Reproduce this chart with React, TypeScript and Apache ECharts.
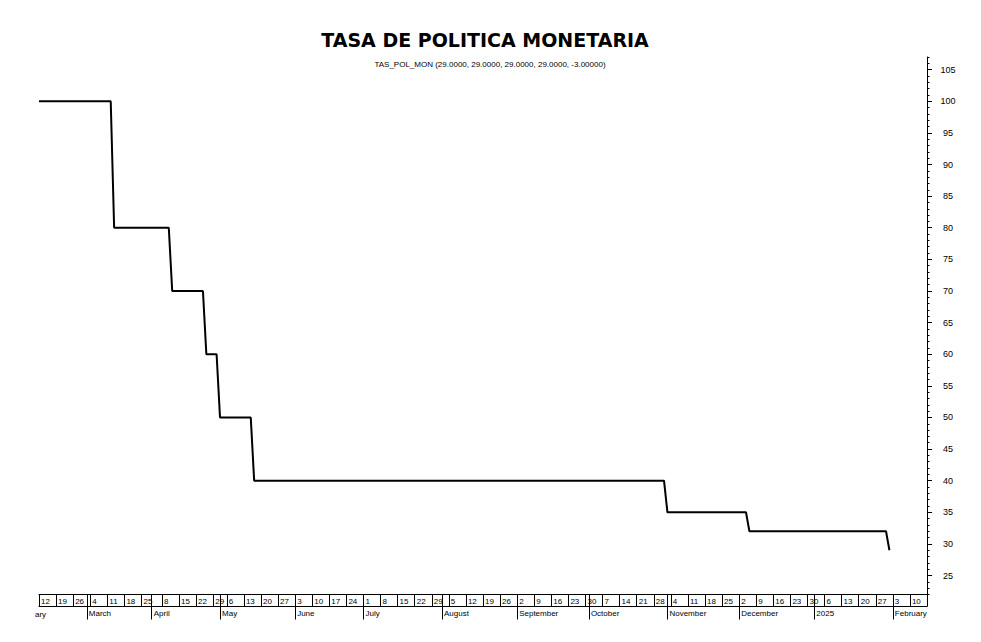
import React, { useEffect, useRef } from 'react';
import * as echarts from 'echarts';

// axis window: trading days shown on the chart
const firstDay = '2024-02-12';
const lastDay = '2025-02-17';
// days missing from the source calendar
const closedDays = ['2024-03-28', '2024-03-29', '2024-04-01', '2024-04-02', '2024-05-01'];

// policy rate changes (date it takes effect, rate %)
const changeDates = [
  '2024-02-12',
  '2024-03-13',
  '2024-04-11',
  '2024-04-25',
  '2024-05-02',
  '2024-05-16',
  '2024-11-01',
  '2024-12-05',
  '2025-01-31',
];
const changeRates = [100, 80, 70, 60, 50, 40, 35, 32, 29];
const lastDataDay = '2025-01-31';

const monthNames = [
  '2025', 'February', 'March', 'April', 'May', 'June', 'July',
  'August', 'September', 'October', 'November', 'December',
];

const yMin = 22;
const yMax = 107;

const FONT = "'Liberation Sans Narrow', 'Arial Narrow', 'Liberation Sans', Arial, sans-serif";

const iso = (d: Date) => d.toISOString().slice(0, 10);

const buildDays = () => {
  const days: string[] = [];
  const d = new Date(firstDay + 'T00:00:00Z');
  const end = new Date(lastDay + 'T00:00:00Z');
  while (d <= end) {
    const wd = d.getUTCDay();
    const s = iso(d);
    if (wd !== 0 && wd !== 6 && !closedDays.includes(s)) days.push(s);
    d.setUTCDate(d.getUTCDate() + 1);
  }
  return days;
};

const days = buildDays();
const lastIdx = days.length - 1;

const rateSeries = days.map((day) => {
  if (day > lastDataDay) return null;
  let v: number | null = null;
  changeDates.forEach((c, i) => {
    if (c <= day) v = changeRates[i];
  });
  return v;
});

const weekOf = (s: string) => {
  const d = new Date(s + 'T00:00:00Z');
  const wd = (d.getUTCDay() + 6) % 7;
  d.setUTCDate(d.getUTCDate() - wd);
  return iso(d);
};

const isWeekStart = days.map((s, i) => i === 0 || weekOf(s) !== weekOf(days[i - 1]));
const isMonthStart = days.map((s, i) => i > 0 && s.slice(0, 7) !== days[i - 1].slice(0, 7));
const isMonday = days.map((s) => new Date(s + 'T00:00:00Z').getUTCDay() === 1);

const App: React.FC = () => {
  const chartRef = useRef<HTMLDivElement>(null);

  useEffect(() => {
    if (!chartRef.current) return;
    const chart = echarts.init(chartRef.current, undefined, { renderer: 'svg' });

    const option = {
      animation: false,
      backgroundColor: '#ffffff',
      title: [
        {
          text: 'TASA DE POLITICA MONETARIA',
          left: 480,
          top: 25,
          textAlign: 'center',
          textStyle: {
            fontFamily: "'DejaVu Sans', Verdana, sans-serif",
            fontWeight: 'bold',
            fontSize: 19,
            color: '#000',
          },
        },
        {
          text: 'TAS_POL_MON (29.0000, 29.0000, 29.0000, 29.0000, -3.00000)',
          left: 485,
          top: 55,
          textAlign: 'center',
          textStyle: {
            fontFamily: FONT,
            fontWeight: 'normal',
            fontSize: 8,
            color: '#000',
          },
        },
      ],
      grid: { left: 39, right: 54, top: 57, bottom: 47.5 },
      xAxis: [
        {
          type: 'category',
          data: days,
          boundaryGap: false,
          position: 'bottom',
          axisLine: { show: true, onZero: false, lineStyle: { color: '#000', width: 1 } },
          axisTick: {
            show: true,
            length: 12,
            interval: (i: number) => isWeekStart[i] || isMonthStart[i] || i === lastIdx,
            lineStyle: { color: '#000', width: 1 },
          },
          axisLabel: {
            interval: (i: number) => isWeekStart[i] && isMonday[i] && i !== lastIdx,
            formatter: (v: string) => String(Number(v.slice(8, 10))),
            align: 'left',
            padding: [0, 0, 0, 2],
            margin: 3,
            fontSize: 8,
            fontFamily: FONT,
            color: '#000',
          },
          splitLine: { show: false },
        },
        {
          type: 'category',
          data: days,
          boundaryGap: false,
          position: 'bottom',
          offset: 12,
          axisLine: { show: true, onZero: false, lineStyle: { color: '#000', width: 1 } },
          axisTick: {
            show: true,
            length: 13,
            interval: (i: number) => isMonthStart[i],
            lineStyle: { color: '#000', width: 1 },
          },
          axisLabel: {
            interval: (i: number) => isMonthStart[i],
            formatter: (v: string) => monthNames[Number(v.slice(5, 7)) - 1],
            align: 'left',
            padding: [0, 0, 0, 2],
            margin: 3,
            fontSize: 8,
            fontFamily: FONT,
            color: '#000',
          },
          splitLine: { show: false },
        },
      ],
      yAxis: [
        {
          type: 'value',
          position: 'right',
          min: yMin,
          max: yMax,
          splitNumber: 17,
          minInterval: 5,
          maxInterval: 5,
          axisLine: { show: true, lineStyle: { color: '#000', width: 1 } },
          axisTick: { show: true, length: 5, lineStyle: { color: '#000' } },
          axisLabel: {
            showMinLabel: false,
            showMaxLabel: false,
            align: 'center',
            margin: 21,
            fontSize: 9,
            fontFamily: FONT,
            color: '#000',
          },
          splitLine: { show: false },
        },
        {
          type: 'value',
          position: 'right',
          min: yMin,
          max: yMax,
          interval: 1,
          axisLine: { show: false },
          axisTick: { show: true, length: 2.5, lineStyle: { color: '#000' } },
          axisLabel: { show: false },
          splitLine: { show: false },
        },
      ],
      graphic: [
        {
          type: 'text',
          left: 35,
          top: 610,
          style: { text: 'ary', fontSize: 8, fontFamily: FONT, fill: '#000' },
        },
      ],
      series: [
        {
          name: 'TAS_POL_MON',
          type: 'line',
          data: rateSeries,
          xAxisIndex: 0,
          yAxisIndex: 0,
          showSymbol: false,
          connectNulls: false,
          lineStyle: { color: '#000', width: 2 },
        },
      ],
    };

    chart.setOption(option);

    return () => {
      chart.dispose();
    };
  }, []);

  return (
    <div
      ref={chartRef}
      style={{ position: 'absolute', left: 0, top: 0, width: 981, height: 642 }}
    />
  );
};

export default App;
